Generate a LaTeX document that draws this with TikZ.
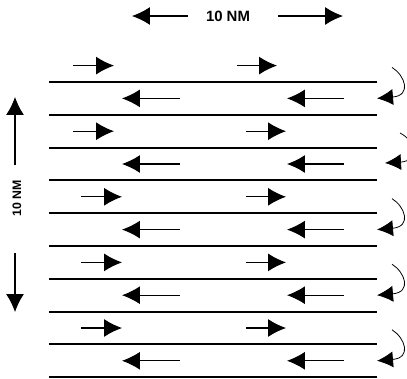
\documentclass[tikz,border=0pt]{standalone}
\usepackage{fontspec}
\setmainfont{Liberation Sans}
\usetikzlibrary{arrows.meta}

\begin{document}
\begin{tikzpicture}[x=0.02cm,y=-0.02cm,>={Latex[length=0.36cm,width=0.36cm]},
  lane/.style={line width=1.1pt},
  flow/.style={->,line width=0.6pt},
  turn/.style={->,line width=0.45pt,>={Latex[length=0.32cm,width=0.32cm]}},
  scale label/.style={font=\fontsize{8.5}{9}\selectfont\bfseries}]
\useasboundingbox (0,0) rectangle (407,379);
\clip (0,0) rectangle (407,379);

% the horizontal lines
\foreach \i in {0,...,9}
  \draw[lane] (49,82+32.8*\i) -- (377,82+32.8*\i);

% the arrows to the right
\foreach \y/\a/\b in {65.6/73/237, 131.2/73/246, 196.8/81/246, 262.4/81/246, 328/81/246}{
  \draw[flow] (\a,\y) -- +(41,0);
  \draw[flow] (\b,\y) -- +(40,0);
}

% the arrows to the left
\foreach \y in {98.4, 164, 229.6, 295.2, 360.8}{
  \draw[flow] (180,\y) -- +(-58,0);
  \draw[flow] (344,\y) -- +(-57,0);
}

% the turns at the right end
\foreach \y in {98.4, 229.6, 295.2, 360.8}
  \draw[turn] (392,\y-31) .. controls (405,\y-23) and (412,\y-3) .. (377,\y);
\draw[turn] (400,133) .. controls (416,141) and (419,161) .. (385,163);

% the scale arrows and labels
\node[scale label] (toplabel) at (228,16) {10 NM};
\draw[->,line width=0.6pt] (188,16) -- (132,16);
\draw[->,line width=0.6pt] (278,16) -- (343,16);
\node[scale label,font=\fontsize{7}{8}\selectfont\bfseries,rotate=90] (sidelabel) at (17,198) {10 NM};
\draw[->,line width=0.6pt] (15,165) -- (15,97);
\draw[->,line width=0.6pt] (15,253) -- (15,312);
\end{tikzpicture}
\end{document}
